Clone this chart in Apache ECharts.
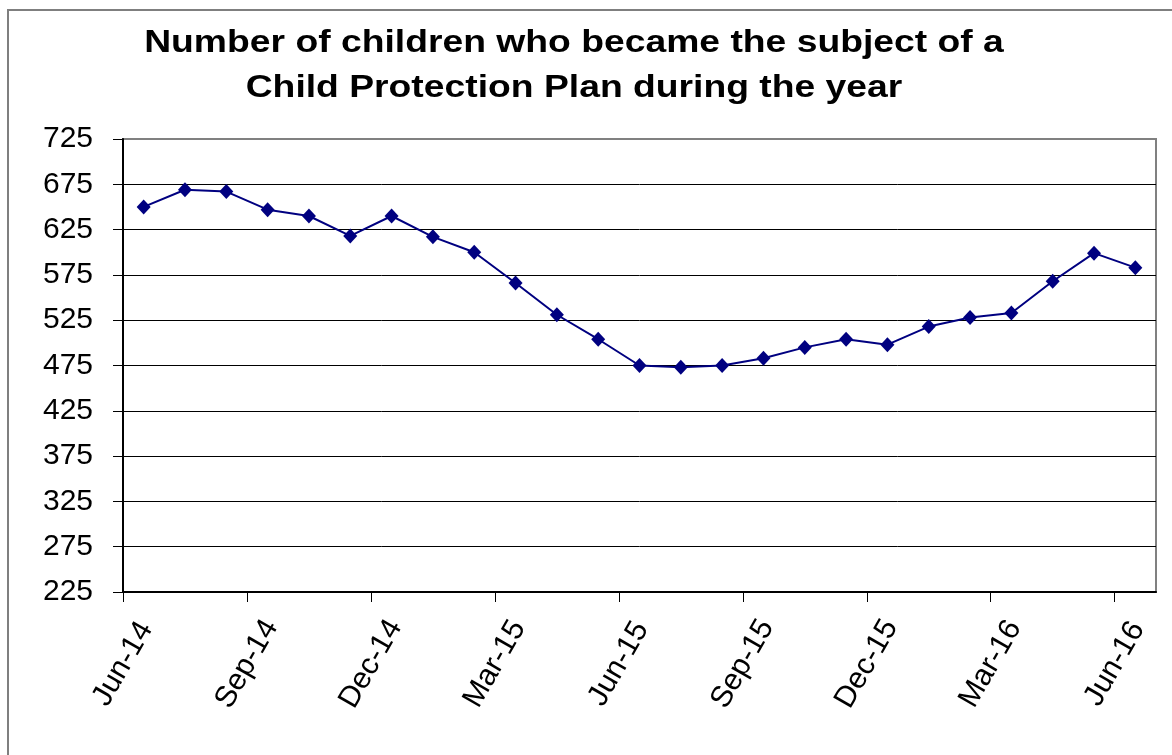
<!DOCTYPE html>
<html>
<head>
<meta charset="utf-8">
<script src="https://cdn.jsdelivr.net/npm/echarts@6/dist/echarts.min.js"></script>
<style>
html,body{margin:0;padding:0;background:#fff;}
#chart{width:1172px;height:755px;}
</style>
</head>
<body>
<div id="chart"></div>
<script>
const titleText = 'Number of children who became the subject of a\nChild Protection Plan during the year';
const months = ['Jun-14','Jul-14','Aug-14','Sep-14','Oct-14','Nov-14','Dec-14','Jan-15','Feb-15','Mar-15','Apr-15','May-15','Jun-15','Jul-15','Aug-15','Sep-15','Oct-15','Nov-15','Dec-15','Jan-16','Feb-16','Mar-16','Apr-16','May-16','Jun-16'];
const children = [650,669,667,647,640,618,640,617,600,566,531,504,475,473,475,483,495,504,498,518,528,533,568,599,583];
const xTickLabels = ['Jun-14','Sep-14','Dec-14','Mar-15','Jun-15','Sep-15','Dec-15','Mar-16','Jun-16'];
const yTicks = [225,275,325,375,425,475,525,575,625,675,725];

const FONT = '"Liberation Sans", Arial, sans-serif';
const xTickPos = xTickLabels.map((_, i) => i * 3);
const gridColors = yTicks.map((_, i) => i === yTicks.length - 1 ? '#808080' : '#000000');

const chart = echarts.init(document.getElementById('chart'));
chart.setOption({
  animation: false,
  backgroundColor: '#ffffff',
  graphic: [{
    type: 'rect', shape: {x: 8, y: 10, width: 1200, height: 800},
    style: {fill: 'none', stroke: '#7f7f7f', lineWidth: 2}, silent: true, z: -10
  }, {
    type: 'text', x: 574, y: 21, scaleX: 1.165,
    style: {
      text: titleText, textAlign: 'center', textVerticalAlign: 'top',
      fontFamily: FONT, fontSize: 32, fontWeight: 'bold', lineHeight: 45, fill: '#000'
    },
    silent: true
  }],
  grid: {left: 123, right: 16, top: 139, bottom: 163, show: true, borderColor: '#808080', borderWidth: 2, backgroundColor: 'transparent'},
  xAxis: [{
    type: 'category', data: months, boundaryGap: true, position: 'bottom', show: false
  }, {
    type: 'value', min: 0, max: months.length, interval: 3, position: 'bottom',
    axisLine: {show: true, lineStyle: {color: '#000', width: 2}},
    axisTick: {show: true, inside: false, length: 10, customValues: xTickPos, lineStyle: {color: '#000', width: 1}},
    axisLabel: {
      customValues: xTickPos,
      formatter: v => xTickLabels[Math.round(v / 3)] || '',
      rotate: 60, align: 'center', verticalAlign: 'middle', margin: 72,
      fontFamily: FONT, fontSize: 30, color: '#000'
    },
    splitLine: {show: false}
  }],
  yAxis: {
    type: 'value', min: yTicks[0], max: yTicks[yTicks.length - 1], interval: 50,
    axisLine: {show: true, lineStyle: {color: '#000', width: 2}},
    axisTick: {show: true, inside: false, length: 10, lineStyle: {color: '#000', width: 1}},
    axisLabel: {margin: 30, fontFamily: FONT, fontSize: 30, color: '#000'},
    splitLine: {show: true, lineStyle: {color: gridColors, width: 1}}
  },
  series: [{
    type: 'line', xAxisIndex: 0, yAxisIndex: 0,
    data: children,
    symbol: 'diamond', symbolSize: [14, 15],
    lineStyle: {color: '#000080', width: 2},
    itemStyle: {color: '#000080'}
  }]
});
</script>
</body>
</html>
